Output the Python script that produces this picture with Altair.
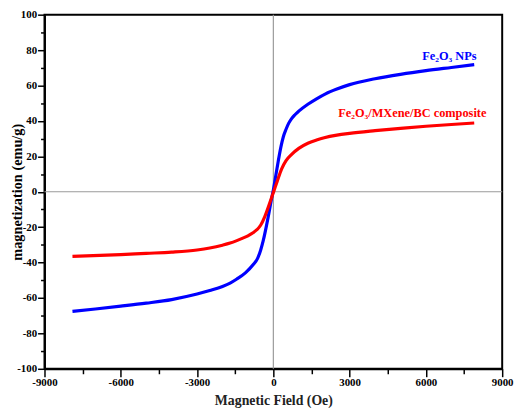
import altair as alt
import pandas as pd

# Fe2O3 NPs hysteresis curve (Oe, emu/g)
blue_x = [-7900, -7000, -6000, -5000, -4000, -3000, -2500, -2000, -1700, -1435, -1100, -790, -620,
          -500, -400, -206, -78, 0, 100, 194, 300, 388, 500, 600, 711, 850, 1000, 1358, 1700, 2055,
          2500, 3000, 4000, 5000, 6000, 7000, 7900]
blue_y = [-67.6, -66.2, -64.6, -62.9, -60.9, -57.8, -55.8, -53.5, -51.6, -49.3, -45.8, -41.1, -37.6,
          -33.0, -27.8, -14.5, -4.5, 1.0, 9.5, 17.4, 25.5, 30.8, 35.3, 38.6, 41.2, 43.5, 45.5, 49.4,
          52.5, 55.3, 58.0, 60.5, 63.8, 66.3, 68.4, 70.2, 71.8]

# Fe2O3/MXene/BC composite
red_x = [-7900, -6000, -5000, -4000, -3000, -2500, -2000, -1700, -1435, -1200, -1000, -800, -660,
         -500, -336, -143, 0, 150, 323, 500, 711, 1000, 1358, 1700, 2000, 2500, 3000, 4000, 5000,
         6000, 7000, 7900]
red_y = [-36.5, -35.5, -34.8, -34.1, -32.9, -31.8, -30.2, -29.0, -27.6, -26.2, -24.9, -23.2, -21.6,
         -18.9, -14.0, -6.4, -0.5, 5.8, 12.8, 17.6, 21.0, 24.5, 27.4, 29.2, 30.5, 32.0, 33.0, 34.5,
         35.8, 37.0, 38.0, 38.8]

series_names = ["Fe₂O₃ NPs", "Fe₂O₃/MXene/BC composite"]
series_colors = ["#0000FF", "#FF0000"]
label_x = [7990, 8380]
label_y = [76.4, 44.2]

x_major = list(range(-9000, 9001, 3000))
x_minor = list(range(-7500, 9000, 3000))
y_major = list(range(-100, 101, 20))
y_minor = list(range(-90, 100, 20))

FONT = "Liberation Serif"

df = pd.concat([
    pd.DataFrame({"H": blue_x, "M": blue_y, "s": series_names[0], "o": range(len(blue_x))}),
    pd.DataFrame({"H": red_x, "M": red_y, "s": series_names[1], "o": range(len(red_x))}),
])
lab = pd.DataFrame({"H": label_x, "M": label_y, "s": series_names})

W, H = 464, 359

xscale = alt.Scale(domain=[-9000, 9000], nice=False, zero=False)
yscale = alt.Scale(domain=[-100, 100], nice=False, zero=False)
color = alt.Color("s:N", scale=alt.Scale(domain=series_names, range=series_colors), legend=None)

xaxis = alt.Axis(
    values=x_major, orient="bottom",
    labelExpr="'' + datum.value", tickSize=8,
    labelPadding=0, labelFlush=False, labelOverlap=False,
    labelFont=FONT, labelFontWeight="bold", labelFontSize=11, labelColor="#000",
    title="Magnetic Field (Oe)", titleFont=FONT, titleFontWeight="bold", titleFontSize=14,
    titleColor="#222", titlePadding=6,
    grid=False, domainColor="#000", domainWidth=2, tickColor="#000", tickWidth=1.5,
)
yaxis = alt.Axis(
    values=y_major, orient="left",
    labelExpr="'' + datum.value", tickSize=7,
    labelPadding=1, labelFlush=False, labelOverlap=False,
    labelFont=FONT, labelFontWeight="bold", labelFontSize=11, labelColor="#000",
    title="magnetization (emu/g)", titleFont=FONT, titleFontWeight="bold", titleFontSize=14.5,
    titleColor="#000", titleX=-27, titleY=H / 2, titleAngle=270, titleAlign="center",
    titleBaseline="middle",
    grid=False, domainColor="#000", domainWidth=2, tickColor="#000", tickWidth=1.5,
)
xminor = alt.Axis(values=x_minor, orient="bottom", labels=False, title=None, tickSize=5,
                  grid=False, domain=False, tickColor="#000", tickWidth=1.5)
yminor = alt.Axis(values=y_minor, orient="left", labels=False, title=None, tickSize=4,
                  grid=False, domain=False, tickColor="#000", tickWidth=1.5)

lines = alt.Chart(df).mark_line(strokeWidth=3.2, interpolate="monotone").encode(
    x=alt.X("H:Q", scale=xscale, axis=xaxis),
    y=alt.Y("M:Q", scale=yscale, axis=yaxis),
    color=color,
    order="o:Q",
    detail="s:N",
)

vline = alt.Chart(pd.DataFrame({"v": [0]})).mark_rule(color="#9a9a9a", strokeWidth=1.2).encode(
    x=alt.X("v:Q", scale=xscale, axis=xminor)
)
hline = alt.Chart(pd.DataFrame({"v": [0]})).mark_rule(color="#9a9a9a", strokeWidth=1.2).encode(
    y=alt.Y("v:Q", scale=yscale, axis=yminor)
)

texts = alt.Chart(lab).mark_text(
    align="right", baseline="middle", font=FONT, fontWeight="bold", fontSize=12.5
).encode(
    x=alt.X("H:Q", scale=xscale, axis=None),
    y=alt.Y("M:Q", scale=yscale, axis=None),
    text="s:N",
    color=color,
)

chart = alt.layer(vline, hline, lines, texts).resolve_scale(
    x="independent", y="independent"
).properties(
    width=W, height=H,
    autosize=alt.AutoSizeParams(type="none"),
    padding={"left": 37, "top": 4, "right": 14, "bottom": 40},
).configure_view(stroke="#000", strokeWidth=2)

chart.save("out.html", embed_options={"renderer": "svg", "actions": False})
